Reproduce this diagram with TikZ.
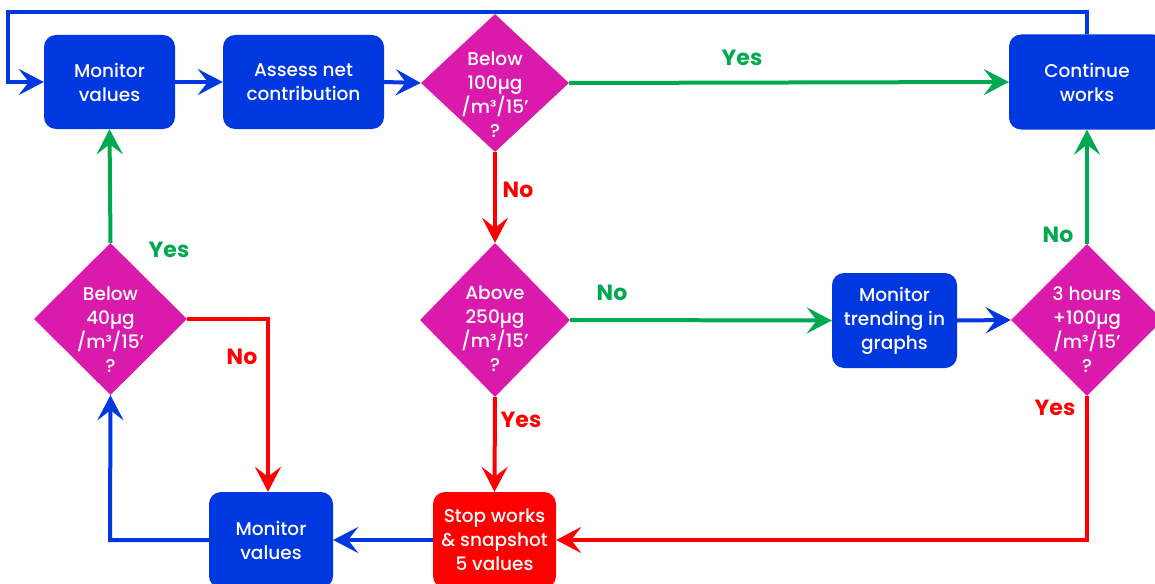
\documentclass[tikz,border=0pt]{standalone}
\usepackage{fontspec}
\setmainfont{Poppins}[UprightFont=* Medium, BoldFont=* Bold]
\usetikzlibrary{arrows.meta,shapes.geometric}
\definecolor{fblue}{RGB}{0,56,224}
\definecolor{fmag}{RGB}{218,26,170}
\definecolor{fred}{RGB}{255,0,0}
\definecolor{fgreen}{RGB}{0,168,80}
\begin{document}
\begin{tikzpicture}[x=1pt,y=-1pt,
  boxnode/.style={rounded corners=12pt, fill=fblue, text=white, align=center,
    font=\fontsize{18.5}{24}\selectfont, inner sep=0pt},
  decnode/.style={diamond, fill=fmag, inner sep=0pt, minimum width=150pt},
  dtext/.style={text=white, align=center, font=\fontsize{18.5}{24}\selectfont, inner sep=0pt},
  tipk/.tip={Stealth[length=25pt,width=26pt,inset=10pt]},
  conn/.style={line width=4pt, -tipk},
  bconn/.style={conn, draw=fblue},
  rconn/.style={conn, draw=fred},
  gconn/.style={conn, draw=fgreen},
  lab/.style={font=\fontsize{22}{24}\selectfont\bfseries, inner sep=0pt},
]
\useasboundingbox (0,0) rectangle (1155,583);

% process boxes
\node[boxnode, minimum width=131pt, minimum height=94pt] (mv1) at (109.5,82) {Monitor\\values};
\node[boxnode, minimum width=161pt, minimum height=94pt] (anc) at (303.5,82) {Assess net\\contribution};
\node[boxnode, minimum width=156pt, minimum height=95pt] (cont) at (1087,82) {Continue\\works};
\node[boxnode, minimum width=125pt, minimum height=95pt] (trend) at (894.5,320.5) {Monitor\\trending in\\graphs};
\node[boxnode, minimum width=124pt, minimum height=96pt] (mv2) at (271,540) {Monitor\\values};
\node[boxnode, fill=fred, minimum width=123pt, minimum height=96pt] (stop) at (494.5,540) {Stop works\\\& snapshot\\5 values};

% decisions
\node[decnode, minimum width=148pt, minimum height=138pt,
  label={[dtext, yshift=-12pt]center:{Below\\100µg\\/m³/15’\\?}}] (d100) at (495,83) {};
\node[decnode, minimum height=154pt,
  label={[dtext, yshift=-9pt]center:{Above\\250µg\\/m³/15’\\?}}] (d250) at (495,320) {};
\node[decnode, minimum width=153pt, minimum height=152pt,
  label={[dtext, yshift=-11pt]center:{Below\\40µg\\/m³/15’\\?}}] (d40) at (110.5,319) {};
\node[decnode, minimum width=152pt, minimum height=152pt,
  label={[dtext, yshift=-10pt]center:{3 hours\\+100µg\\/m³/15’\\?}}] (d3h) at (1087,320) {};

% loop corners
\coordinate (loopR) at (1087,12);
\coordinate (loopL) at (8,12);
\coordinate (redR) at (1087,540);
\coordinate (blueL) at (110,540);
\coordinate (redN) at (268,319);

% connectors
\draw[bconn] (cont.north) -- (loopR) -- (loopL) |- (mv1.west);
\draw[bconn] (mv1.east) -- (anc.west);
\draw[bconn] (anc.east) -- (d100.west);
\draw[gconn] (d100.east) -- (cont.west);
\draw[rconn] (d100.south) -- (d250.north);
\draw[gconn] (d250.east) -- (trend.west);
\draw[bconn] (trend.east) -- (d3h.west);
\draw[gconn] (d3h.north) -- (cont.south);
\draw[rconn] (d3h.south) -- (redR) -- (stop.east);
\draw[rconn] (d250.south) -- (stop.north);
\draw[bconn] (stop.west) -- (mv2.west -| mv2.east);
\draw[bconn] (mv2.west) -- (blueL) -- (d40.south);
\draw[gconn] (d40.north) -- (mv1.south);
\draw[rconn] (d40.east) -- (redN) -- (redN |- mv2.north);

% branch labels
\node[lab, text=fgreen] (l1) at (742,58) {Yes};
\node[lab, text=fred] (l2) at (518,190) {No};
\node[lab, text=fgreen] (l3) at (612,293) {No};
\node[lab, text=fgreen] (l4) at (169,250) {Yes};
\node[lab, text=fred] (l5) at (242,357) {No};
\node[lab, text=fred] (l6) at (521,420) {Yes};
\node[lab, text=fgreen] (l7) at (1058,235) {No};
\node[lab, text=fred] (l8) at (1055,408) {Yes};
\end{tikzpicture}
\end{document}
